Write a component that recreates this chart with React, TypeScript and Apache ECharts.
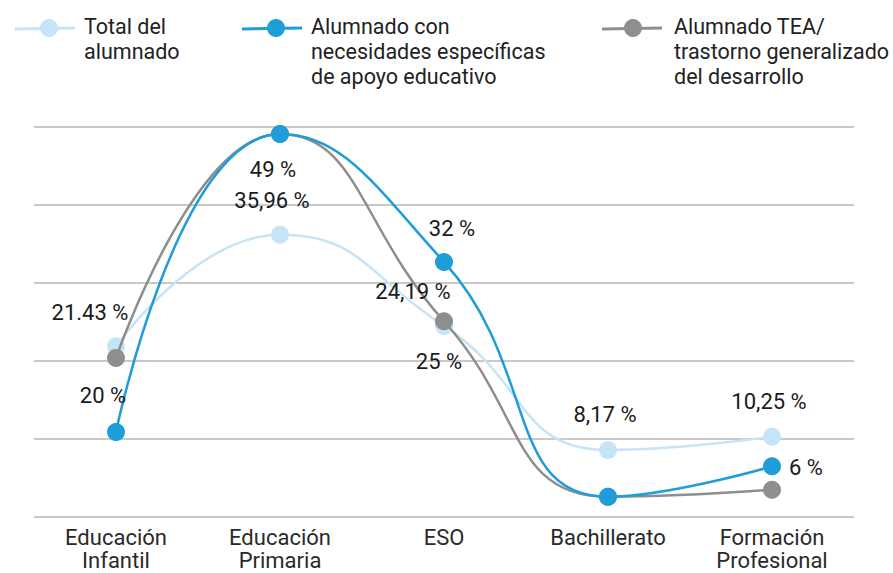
import React, { useEffect, useRef } from "react";
import * as echarts from "echarts";

const categories = ["Educación\nInfantil", "Educación\nPrimaria", "ESO", "Bachillerato", "Formación\nProfesional"];
const seriesNames = [
  "Total del\nalumnado",
  "Alumnado con\nnecesidades específicas\nde apoyo educativo",
  "Alumnado TEA/\ntrastorno generalizado\ndel desarrollo",
];
const totalValues = [21.9, 36.2, 24.5, 8.6, 10.3];
const neaeValues = [10.9, 49.1, 32.7, 2.6, 6.5];
const teaValues = [20.4, 49.1, 25.1, 2.6, 3.5];
// labels shown on the chart (as printed)
const totalLabels = ["21.43 %", "35,96 %", "25 %", "8,17 %", "10,25 %"];
const neaeLabels = ["20 %", "49 %", "32 %", "", "6 %"];
const teaLabels = ["", "", "24,19 %", "", ""];
const yTicks = [0, 10, 20, 30, 40, 50];

const colors = ["#c6e4f7", "#1e9dd8", "#8e8e8e"];

const totalOffsets: [number, number][] = [[-26, -34], [-8, -34], [-5, 36], [-3, -35], [-3, -35]];
const neaeOffsets: [number, number][] = [[-13, -36], [-7, 35], [8, -33], [0, 0], [34, 1]];
const teaOffsets: [number, number][] = [[0, 0], [0, 0], [-31, -30], [0, 0], [0, 0]];

const labelFont = {
  fontFamily: "Roboto, sans-serif",
  fontSize: 22,
  color: "#1a1a1a",
};

function buildData(values: number[], labels: string[], offsets: [number, number][]) {
  return values.map((v, i) => ({
    value: v,
    label: labels[i]
      ? { show: true, position: "inside", offset: offsets[i], formatter: labels[i], ...labelFont }
      : { show: false },
  }));
}

export default function App() {
  const ref = useRef<HTMLDivElement>(null);
  useEffect(() => {
    if (!ref.current) return;
    const chart = echarts.init(ref.current, null, { renderer: "svg" });
    const legendX = [15, 242, 602];
    const legendGraphics: any[] = [];
    seriesNames.forEach((name, i) => {
      const x0 = legendX[i];
      legendGraphics.push({
        type: "line",
        shape: { x1: x0, y1: 29, x2: x0 + 60, y2: 28 },
        style: { stroke: colors[i], lineWidth: 3 },
      });
      legendGraphics.push({
        type: "circle",
        shape: { cx: x0 + 34 + (i === 2 ? -3 : 0), cy: 28, r: 9 },
        style: { fill: colors[i] },
      });
      legendGraphics.push({
        type: "text",
        x: x0 + 69 + (i === 2 ? 3 : 0),
        y: 14,
        style: {
          text: name,
          fontFamily: "Roboto, sans-serif",
          fontSize: 21.5,
          lineHeight: 25,
          fill: "#222",
        },
      });
    });
    const mkSeries = (i: number, data: any[]) => ({
      name: seriesNames[i],
      type: "line",
      smooth: 0.5,
      data,
      symbol: "circle",
      symbolSize: 18,
      itemStyle: { color: colors[i] },
      lineStyle: { color: colors[i], width: 2.5 },
      z: i === 0 ? 2 : i === 1 ? 4 : 3,
    });
    chart.setOption({
      animation: false,
      grid: { left: 34, right: 39, top: 127, bottom: 56, containLabel: false, outerBoundsMode: "none" },
      graphic: legendGraphics,
      xAxis: {
        type: "category",
        data: categories,
        boundaryGap: true,
        axisLine: { show: false },
        axisTick: { show: false },
        axisLabel: {
          margin: 9,
          fontFamily: "Roboto, sans-serif",
          fontSize: 22,
          lineHeight: 23,
          color: "#2a2a2a",
          verticalAlign: "top",
        },
      },
      yAxis: {
        type: "value",
        min: yTicks[0],
        max: yTicks[yTicks.length - 1],
        interval: 10,
        axisLabel: { show: false },
        axisLine: { show: false },
        axisTick: { show: false },
        splitLine: { lineStyle: { color: "#c9c9c9", width: 2 } },
      },
      series: [
        mkSeries(0, buildData(totalValues, totalLabels, totalOffsets)),
        mkSeries(2, buildData(teaValues, teaLabels, teaOffsets)),
        mkSeries(1, buildData(neaeValues, neaeLabels, neaeOffsets)),
      ],
    });
    return () => chart.dispose();
  }, []);
  return <div ref={ref} style={{ width: 893, height: 573, position: "absolute", left: 0, top: 0 }} />;
}
